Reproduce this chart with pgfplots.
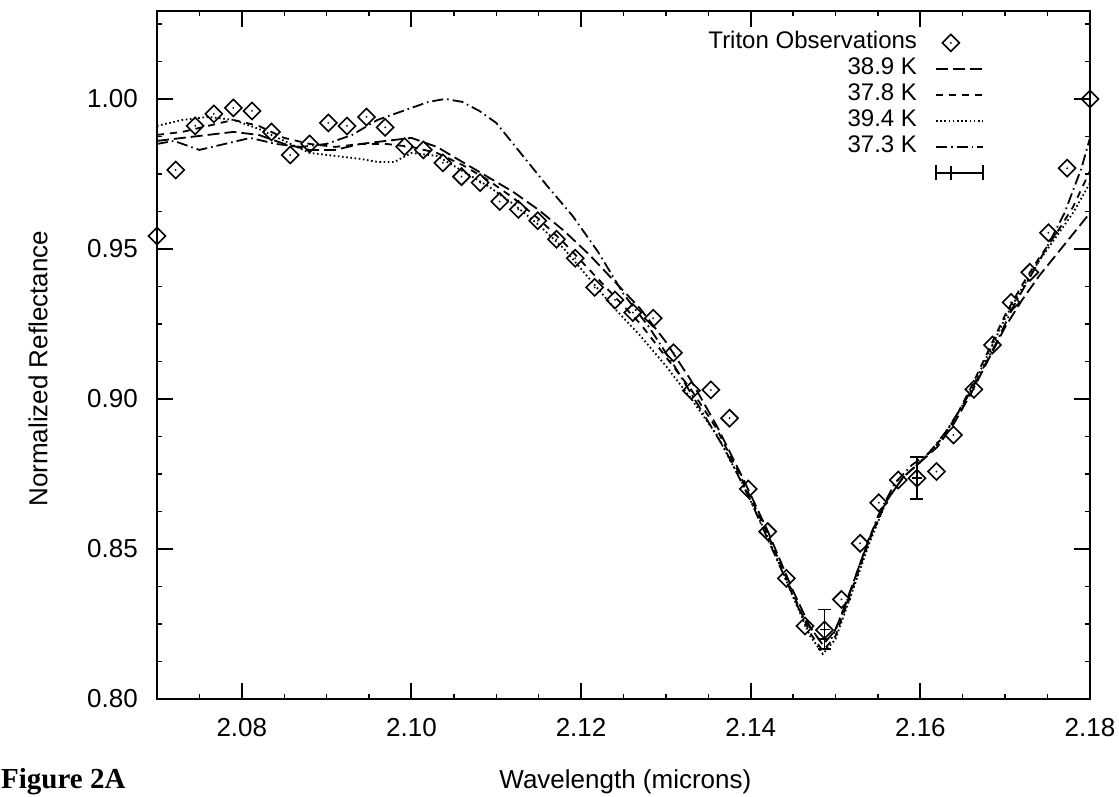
\documentclass[border=0pt]{standalone}
\usepackage{fontspec}
\setmainfont{Liberation Sans}
\newfontfamily\timesfont{Liberation Serif}
\usepackage{pgfplots}
\usepackage{pgfplotstable}
\pgfplotsset{compat=1.18}

\pgfdeclareplotmark{dotdiamond}{%
  \pgfpathmoveto{\pgfqpoint{0pt}{\pgfplotmarksize}}%
  \pgfpathlineto{\pgfqpoint{\pgfplotmarksize}{0pt}}%
  \pgfpathlineto{\pgfqpoint{0pt}{-\pgfplotmarksize}}%
  \pgfpathlineto{\pgfqpoint{-\pgfplotmarksize}{0pt}}%
  \pgfpathclose
  \pgfusepathqstroke
  \pgfpathcircle{\pgfpointorigin}{1pt}%
  \pgfusepathqfill
}

\pgfplotsset{
  lineleg/.style={legend image code/.code={\draw[##1] (0pt,0pt) -- (47pt,0pt);}},
  markleg/.style={legend image code/.code={\path (0pt,0pt) (47pt,0pt);
     \draw[##1] plot coordinates {(15pt,0pt)};}},
  errleg/.style={legend image code/.code={\path (0pt,0pt) (47pt,0pt);
     \draw[black, line width=1.6pt] (0pt,0pt) -- (47pt,0pt);
     \draw[black, line width=1.6pt] (0pt,-7.5pt) -- (0pt,7.5pt);
     \draw[black, line width=1.6pt] (47pt,-7.5pt) -- (47pt,7.5pt);
     \draw[black, line width=1.6pt] (15pt,-7pt) -- (15pt,7pt);}},
}

\pgfplotstableread{
x y
2.0700 0.9543
2.0722 0.9763
2.0745 0.9910
2.0767 0.9950
2.0790 0.9970
2.0812 0.9960
2.0835 0.9890
2.0857 0.9813
2.0880 0.9850
2.0902 0.9920
2.0924 0.9910
2.0947 0.9940
2.0969 0.9905
2.0992 0.9841
2.1014 0.9830
2.1037 0.9787
2.1059 0.9741
2.1081 0.9721
2.1104 0.9658
2.1126 0.9632
2.1149 0.9594
2.1171 0.9532
2.1193 0.9469
2.1216 0.9372
2.1240 0.9330
2.1261 0.9288
2.1285 0.9269
2.1309 0.9154
2.1330 0.9028
2.1353 0.9030
2.1375 0.8936
2.1397 0.8700
2.1420 0.8558
2.1442 0.8402
2.1464 0.8243
2.1487 0.8230
2.1507 0.8332
2.1529 0.8519
2.1551 0.8654
2.1574 0.8730
2.1596 0.8736
2.1619 0.8758
2.1639 0.8880
2.1663 0.9032
2.1685 0.9180
2.1707 0.9322
2.1729 0.9422
2.1751 0.9554
2.1773 0.9769
2.1800 1.0000
}\obs

\pgfplotstableread{
x y
2.070 0.986
2.073 0.987
2.076 0.988
2.079 0.989
2.082 0.988
2.085 0.985
2.088 0.983
2.091 0.983
2.094 0.985
2.097 0.986
2.100 0.987
2.103 0.984
2.106 0.979
2.109 0.974
2.112 0.969
2.115 0.963
2.118 0.956
2.121 0.948
2.124 0.939
2.127 0.930
2.130 0.919
2.133 0.906
2.136 0.891
2.139 0.874
2.142 0.856
2.145 0.836
2.147 0.824
2.1485 0.818
2.150 0.823
2.152 0.838
2.154 0.854
2.156 0.866
2.158 0.874
2.160 0.879
2.162 0.884
2.164 0.892
2.166 0.902
2.168 0.913
2.170 0.924
2.172 0.933
2.174 0.941
2.176 0.948
2.178 0.955
2.180 0.962
}\kA

\pgfplotstableread{
x y
2.070 0.988
2.073 0.989
2.076 0.991
2.079 0.993
2.082 0.991
2.085 0.987
2.088 0.985
2.091 0.984
2.094 0.985
2.097 0.985
2.100 0.984
2.103 0.982
2.106 0.978
2.109 0.973
2.112 0.967
2.115 0.960
2.118 0.952
2.121 0.943
2.124 0.934
2.127 0.925
2.130 0.914
2.133 0.903
2.136 0.890
2.139 0.873
2.142 0.855
2.145 0.835
2.147 0.822
2.1485 0.816
2.150 0.821
2.152 0.837
2.154 0.853
2.156 0.866
2.158 0.874
2.160 0.879
2.162 0.885
2.164 0.893
2.166 0.904
2.168 0.916
2.170 0.928
2.172 0.938
2.174 0.947
2.176 0.955
2.178 0.964
2.180 0.976
}\kB

\pgfplotstableread{
x y
2.070 0.991
2.073 0.993
2.076 0.994
2.079 0.993
2.082 0.990
2.085 0.986
2.088 0.982
2.091 0.981
2.094 0.980
2.096 0.979
2.098 0.979
2.100 0.982
2.103 0.981
2.106 0.976
2.109 0.971
2.112 0.965
2.115 0.958
2.118 0.950
2.121 0.940
2.124 0.930
2.127 0.921
2.130 0.911
2.133 0.900
2.136 0.888
2.139 0.872
2.142 0.854
2.145 0.834
2.147 0.821
2.1485 0.815
2.150 0.820
2.152 0.836
2.154 0.852
2.156 0.866
2.158 0.874
2.160 0.879
2.162 0.885
2.164 0.893
2.166 0.903
2.168 0.915
2.170 0.927
2.172 0.937
2.174 0.946
2.176 0.954
2.178 0.962
2.180 0.972
}\kC

\pgfplotstableread{
x y
2.070 0.985
2.072 0.986
2.075 0.983
2.078 0.985
2.081 0.987
2.084 0.985
2.087 0.984
2.090 0.985
2.093 0.988
2.096 0.993
2.099 0.996
2.102 0.999
2.104 1.000
2.106 0.999
2.108 0.996
2.110 0.992
2.112 0.985
2.114 0.978
2.116 0.971
2.119 0.961
2.122 0.949
2.125 0.935
2.128 0.924
2.131 0.911
2.134 0.897
2.137 0.883
2.140 0.866
2.143 0.847
2.146 0.828
2.148 0.820
2.1495 0.820
2.151 0.830
2.153 0.846
2.155 0.861
2.157 0.872
2.159 0.878
2.161 0.882
2.163 0.889
2.165 0.898
2.167 0.908
2.169 0.919
2.171 0.931
2.173 0.941
2.175 0.951
2.177 0.962
2.179 0.977
2.180 0.987
}\kD

\begin{document}
\begin{tikzpicture}[x=1pt,y=1pt]
\begin{axis}[
  at={(157pt,97pt)}, anchor=south west,
  scale only axis, width=933pt, height=688pt,
  xmin=2.07, xmax=2.18, ymin=0.80, ymax=1.0293,
  clip=false,
  xtick={2.08,2.10,2.12,2.14,2.16,2.18},
  ytick={0.80,0.85,0.90,0.95,1.00},
  minor xtick={2.075,2.085,2.09,2.095,2.105,2.11,2.115,2.125,2.13,2.135,2.145,2.15,2.155,2.165,2.17,2.175},
  minor ytick={0.8125,0.825,0.8375,0.8625,0.875,0.8875,0.9125,0.925,0.9375,0.9625,0.975,0.9875,1.0125,1.025},
  tick align=inside,
  major tick length=16pt, minor tick length=5pt,
  every major tick/.append style={line width=2pt, black},
  every minor tick/.append style={line width=1.4pt, black},
  axis line style={line width=2pt},
  /pgf/number format/assume math mode=true,
  xticklabel style={/pgf/number format/fixed, /pgf/number format/fixed zerofill, /pgf/number format/precision=2,
     inner sep=0pt, anchor=base, yshift=-37pt},
  yticklabel style={/pgf/number format/fixed, /pgf/number format/fixed zerofill, /pgf/number format/precision=2,
     inner sep=0pt, anchor=east, xshift=-19pt},
  tick label style={font=\fontsize{26}{30}\selectfont},
  label style={font=\fontsize{26}{30}\selectfont},
  xlabel={Wavelength (microns)},
  ylabel={Normalized Reflectance},
  xlabel style={at={(axis description cs:0.502,-0.1308)}, anchor=base, inner sep=0pt},
  ylabel style={at={(axis description cs:-0.1275,0.48)}, anchor=center, inner sep=0pt},
  legend plot pos=right,
  legend cell align=right,
  legend style={font=\fontsize{24}{28}\selectfont, draw=none, fill=none,
    at={(0.8896,0.9757)}, anchor=north east, column sep=18pt,
    nodes={inner sep=0pt, text height=17pt, text depth=5pt, minimum height=26pt}},
]
\addplot[only marks, mark=dotdiamond, mark size=8.5pt, line width=1.6pt, black, markleg]
  table[x=x,y=y]{\obs};
\addlegendentry{Triton Observations}

\addplot[black, line width=1.8pt, dash pattern=on 12pt off 5pt, lineleg]
  table[x=x,y=y]{\kA};
\addlegendentry{38.9 K}

\addplot[black, line width=1.8pt, dash pattern=on 7pt off 6pt, lineleg]
  table[x=x,y=y]{\kB};
\addlegendentry{37.8 K}

\addplot[black, line width=1.8pt, dash pattern=on 1.6pt off 2.6pt, lineleg]
  table[x=x,y=y]{\kC};
\addlegendentry{39.4 K}

\addplot[black, line width=1.8pt, dash pattern=on 11pt off 4pt on 1.6pt off 4pt, lineleg]
  table[x=x,y=y]{\kD};
\addlegendentry{37.3 K}

\addplot[only marks, black, mark=+, mark size=5pt, line width=1.4pt, errleg,
  error bars/.cd, y dir=both, y explicit,
  error bar style={line width=1.6pt, black},
  error mark options={rotate=90, mark size=6.5pt, line width=1.6pt, black}]
  coordinates {(2.1487,0.8232) +- (0,0.0066) (2.1596,0.8736) +- (0,0.0070)};
\addlegendentry{}
\end{axis}
\node[anchor=base west, inner sep=0pt, font=\timesfont\bfseries\fontsize{29}{34}\selectfont] at (1,8) {Figure 2A};
\pgfresetboundingbox
\useasboundingbox (0,0) rectangle (1119,796);
\end{tikzpicture}
\end{document}
